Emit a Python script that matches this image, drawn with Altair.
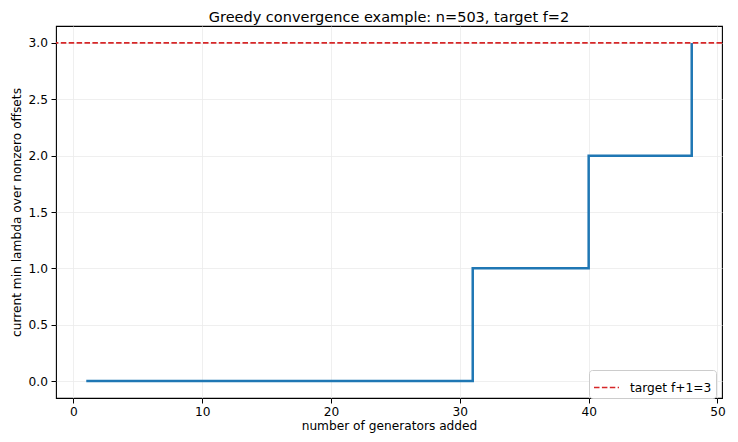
import altair as alt
import pandas as pd

# Step breakpoints: number of generators added -> current min lambda
generators = [1, 31, 40, 48]
min_lambda = [0, 1, 2, 3]
target_value = [3]
target_label = ["target f+1=3"]

x_ticks = [0, 10, 20, 30, 40, 50]
y_ticks = [0.0, 0.5, 1.0, 1.5, 2.0, 2.5, 3.0]

steps = pd.DataFrame({"gens": generators, "lam": min_lambda})
target = pd.DataFrame({"y": target_value, "series": target_label})

FONT = "DejaVu Sans"
FS = 12.2

x_scale = alt.Scale(domain=[-1.35, 50.35], nice=False, zero=False)
y_scale = alt.Scale(domain=[-0.15, 3.15], nice=False, zero=False)

x_axis = alt.Axis(values=x_ticks, format="d", title="number of generators added",
                  grid=True, tickSize=5, labelPadding=2, titlePadding=2)
y_axis = alt.Axis(values=y_ticks, format=".1f",
                  title="current min lambda over nonzero offsets",
                  grid=True, tickSize=5, labelPadding=3.5, titlePadding=5)

line = alt.Chart(steps).mark_line(
    interpolate="step-after", color="#1f77b4", strokeWidth=2.5
).encode(
    x=alt.X("gens:Q", scale=x_scale, axis=x_axis),
    y=alt.Y("lam:Q", scale=y_scale, axis=y_axis),
)

rule = alt.Chart(target).mark_rule(strokeDash=[5.5, 2.4], strokeWidth=1.6).encode(
    y=alt.Y("y:Q", scale=y_scale),
    color=alt.Color(
        "series:N",
        scale=alt.Scale(range=["#d62728"]),
        legend=alt.Legend(
            title=None, orient="none", legendX=533, legendY=344,
            symbolType="stroke", symbolStrokeWidth=1.6, symbolDash=[5.5, 2.4],
            symbolSize=625, labelFontSize=FS, labelFont=FONT, labelColor="black",
            labelOffset=10,
            fillColor="white", strokeColor="#cccccc", cornerRadius=3,
            padding=4,
        ),
    ),
)

chart = alt.layer(line, rule).properties(
    width=666, height=372,
    title=alt.TitleParams("Greedy convergence example: n=503, target f=2",
                          fontSize=14.5, font=FONT, fontWeight="normal",
                          color="black", offset=1),
    autosize=alt.AutoSizeParams(type="none"),
    padding={"left": 48, "top": 18, "right": 8, "bottom": 36},
).configure_axis(
    labelFont=FONT, titleFont=FONT, labelFontSize=FS, titleFontSize=FS,
    labelColor="black", titleColor="black", titleFontWeight="normal",
    domain=False, tickColor="black", tickWidth=1,
    gridColor="#ebebeb", gridWidth=0.8,
).configure_view(
    stroke="black", strokeWidth=1.1
)

chart.save("out.html", embed_options={"renderer": "svg", "actions": False})
